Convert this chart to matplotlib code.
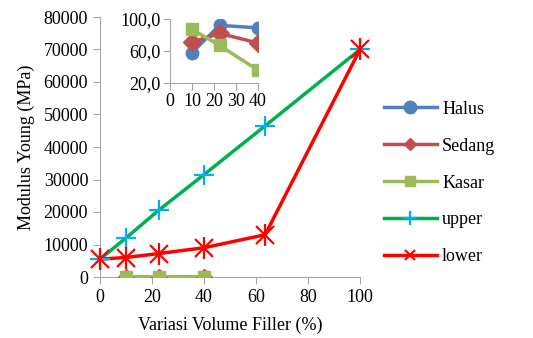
import numpy as np
import matplotlib
matplotlib.use("Agg")
import matplotlib.pyplot as plt
from matplotlib.lines import Line2D

plt.rcParams['font.family'] = 'serif'
plt.rcParams['font.serif'] = ['Liberation Serif', 'DejaVu Serif']

# data
x_fill = [10, 22.5, 40]
halus = [58, 92, 89]
sedang = [71, 82, 70]
kasar = [87, 67, 36]
x_bound = [0, 10, 22.5, 40, 63.5, 100]
upper = [5500, 12000, 20500, 31500, 46500, 70000]
lower = [5500, 6000, 7200, 9000, 13000, 70000]
xticks = [0, 20, 40, 60, 80, 100]
yticks = [0, 10000, 20000, 30000, 40000, 50000, 60000, 70000, 80000]
inset_xticks = [0, 10, 20, 30, 40]
inset_yticks = [20, 60, 100]

c_halus = '#4F81BD'
c_sedang = '#C0504D'
c_kasar = '#9BBB59'
c_upper = '#00B050'
c_upper_m = '#00B0F0'
c_lower = '#FF0000'
gray = '#A6A6A6'

fig = plt.figure(figsize=(5.33, 3.38), dpi=100)
ax = fig.add_axes([100/533, 1-277/338, 260/533, 260/338])

fs = 13
ax.plot(x_fill, halus, color=c_halus, lw=2.5, marker='o', ms=9, zorder=3)
ax.plot(x_fill, sedang, color=c_sedang, lw=2.5, marker='D', ms=8, zorder=3)
ax.plot(x_fill, kasar, color=c_kasar, lw=2.5, marker='s', ms=9, zorder=3)
ax.plot(x_bound, upper, color=c_upper, lw=2.5, zorder=2)
ax.plot(x_bound, upper, ls='none', marker='+', ms=14, mew=1.6, color=c_upper_m,
        zorder=4, clip_on=False)
ax.plot(x_bound, lower, color=c_lower, lw=2.5, zorder=2, solid_joinstyle='round')
ax.plot(x_bound, lower, ls='none', marker='x', ms=13, mew=1.6, color=c_lower, zorder=4,
        clip_on=False)
ax.plot(x_bound, lower, ls='none', marker='|', ms=16, mew=1.6, color=c_lower, zorder=4,
        clip_on=False)

handles = [
    Line2D([], [], color=c_halus, lw=2.5, marker='o', ms=9),
    Line2D([], [], color=c_sedang, lw=2.5, marker='D', ms=6),
    Line2D([], [], color=c_kasar, lw=2.5, marker='s', ms=7),
    Line2D([], [], color=c_upper, lw=2.5, marker='+', ms=10, mew=1.6, mec=c_upper_m),
    Line2D([], [], color=c_lower, lw=2.5, marker='x', ms=7, mew=1.6),
]
labels = ['Halus', 'Sedang', 'Kasar', 'upper', 'lower']
fig.legend(handles, labels, loc='center left', bbox_to_anchor=(368/533, 1-183/338),
           frameon=False, fontsize=fs, labelspacing=1.1, handlelength=2.9,
           handletextpad=0.3)

ax.set_xlim(0, 100)
ax.set_ylim(0, 80000)
ax.set_xticks(xticks)
ax.set_yticks(yticks)
ax.tick_params(labelsize=fs, color=gray, length=5, direction='out')
for s in ['top', 'right']:
    ax.spines[s].set_visible(False)
for s in ['left', 'bottom']:
    ax.spines[s].set_color(gray)
ax.set_xlabel('Variasi Volume Filler (%)', fontsize=fs, labelpad=8)
ax.set_ylabel('Modulus Young (MPa)', fontsize=fs, labelpad=6)

# inset
ins = fig.add_axes([170/533, 1-83/338, 88/533, 64/338])
ins.plot(x_fill, halus, color=c_halus, lw=2.5, marker='o', ms=9)
ins.plot(x_fill, sedang, color=c_sedang, lw=2.5, marker='D', ms=9)
ins.plot(x_fill, kasar, color=c_kasar, lw=2.5, marker='s', ms=9)
ins.set_xlim(0, 40)
ins.set_ylim(20, 100)
ins.set_xticks(inset_xticks)
ins.set_yticks(inset_yticks)
ins.set_yticklabels([f'{v:.1f}'.replace('.', ',') for v in inset_yticks])
ins.tick_params(labelsize=fs, color=gray, length=5, direction='out', pad=2)
ins.patch.set_alpha(0)
for s in ['top', 'right']:
    ins.spines[s].set_visible(False)
for s in ['left', 'bottom']:
    ins.spines[s].set_color(gray)

fig.savefig('out.png', dpi=100)
